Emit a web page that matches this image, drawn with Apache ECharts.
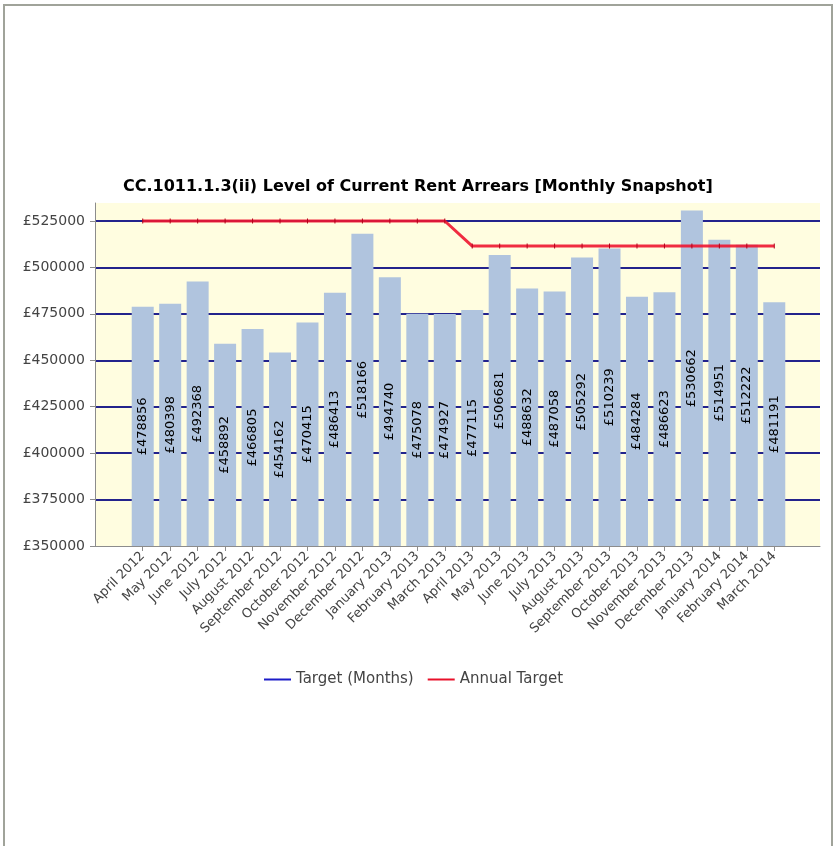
<!DOCTYPE html>
<html>
<head>
<meta charset="utf-8">
<script src="https://cdn.jsdelivr.net/npm/echarts@6/dist/echarts.min.js"></script>
<style>
  html, body { margin: 0; padding: 0; background: #fff; }
  #frame {
    position: absolute; left: 3px; top: 4px; width: 826px; height: 850px;
    border-top: 2px solid #a0a39a; border-left: 2px solid #a0a39a; border-right: 2px solid #a0a39a;
  }
  #chart { position: absolute; left: 0; top: 0; width: 833px; height: 846px; }
</style>
</head>
<body>
<div id="frame"></div>
<div id="chart"></div>
<script>
// months shown on the x axis
const months = [
  "April 2012", "May 2012", "June 2012", "July 2012", "August 2012", "September 2012",
  "October 2012", "November 2012", "December 2012", "January 2013", "February 2013", "March 2013",
  "April 2013", "May 2013", "June 2013", "July 2013", "August 2013", "September 2013",
  "October 2013", "November 2013", "December 2013", "January 2014", "February 2014", "March 2014"
];
// arrears snapshot per month (bar labels)
const arrears = [
  478856, 480398, 492368, 458892, 466805, 454162, 470415, 486413, 518166, 494740, 475078, 474927,
  477115, 506681, 488632, 487058, 505292, 510239, 484284, 486623, 530662, 514951, 512222, 481191
];
// annual target line
const annualTarget = [
  525000, 525000, 525000, 525000, 525000, 525000, 525000, 525000, 525000, 525000, 525000, 525000,
  511500, 511500, 511500, 511500, 511500, 511500, 511500, 511500, 511500, 511500, 511500, 511500
];
// monthly target series (no points shown in the picture)
const monthTarget = [];

const fontFam = "DejaVu Sans";
const navy = "#23238c";
const chart = echarts.init(document.getElementById("chart"));

chart.setOption({
  animation: false,
  title: {
    text: "CC.1011.1.3(ii) Level of Current Rent Arrears [Monthly Snapshot]",
    left: 118, top: 174,
    textStyle: { fontFamily: fontFam, fontSize: 16, fontWeight: "bold", color: "#000" }
  },
  legend: {
    top: 667, left: 259,
    itemWidth: 27, itemHeight: 2, itemGap: 14,
    textStyle: { fontFamily: fontFam, fontSize: 15, color: "#444" },
    data: [
      { name: "Target (Months)", icon: "rect", itemStyle: { color: "#1c1cc8" } },
      { name: "Annual Target", icon: "rect", itemStyle: { color: "#e8102a" } }
    ]
  },
  grid: [
    // yellow plot background
    {
      left: 95, right: 13, top: 203, bottom: 300, show: true,
      backgroundColor: "#fffde0", borderWidth: 0, borderColor: "transparent"
    },
    // y labels and gridlines (350000..525000)
    { left: 95, right: 13, top: 221, bottom: 300 },
    // inner grid for the bars, top of scale about 535000
    { left: 129, right: 45, top: 203, bottom: 300 }
  ],
  xAxis: [
    {
      gridIndex: 1, type: "category", data: [""],
      axisLine: { show: true, lineStyle: { color: "#8c8c8c", width: 1 } },
      axisTick: { show: false }, axisLabel: { show: false }
    },
    {
      gridIndex: 2, type: "category", data: months,
      axisLine: { show: false },
      axisTick: { show: true, alignWithLabel: true, length: 5, lineStyle: { color: "#8c8c8c" } },
      axisLabel: {
        rotate: 45, interval: 0, margin: 8,
        fontFamily: fontFam, fontSize: 13, color: "#444"
      }
    },
    {
      gridIndex: 0, type: "value", min: 0, max: 1, show: false
    }
  ],
  yAxis: [
    {
      gridIndex: 1, type: "value", min: 350000, max: 525000, interval: 25000,
      axisLine: { show: false },
      axisTick: { show: true, length: 5, lineStyle: { color: "#8c8c8c" } },
      splitLine: { show: true, showMinLine: false, lineStyle: { color: navy, width: 2 } },
      axisLabel: {
        margin: 10,
        fontFamily: fontFam, fontSize: 14, color: "#444",
        formatter: v => "£" + v
      }
    },
    {
      gridIndex: 2, type: "value", min: 350000, max: 534700,
      axisLine: { show: false }, axisTick: { show: false },
      splitLine: { show: false }, axisLabel: { show: false }
    },
    {
      // grey vertical axis line over the full plot height
      gridIndex: 0, type: "value", min: 0, max: 1,
      axisLine: { show: true, lineStyle: { color: "#8c8c8c" } },
      axisTick: { show: false }, splitLine: { show: false }, axisLabel: { show: false }
    }
  ],
  series: [
    {
      name: "Arrears", type: "bar", xAxisIndex: 1, yAxisIndex: 1,
      data: arrears, barWidth: 22, z: 3,
      itemStyle: { color: "#b0c4de" },
      label: {
        show: true, position: "inside", rotate: 90,
        fontFamily: fontFam, fontSize: 13, color: "#000",
        formatter: p => "£" + p.value
      }
    },
    {
      name: "Target (Months)", type: "line", xAxisIndex: 1, yAxisIndex: 1,
      data: monthTarget, symbol: "none", lineStyle: { color: "#1c1cc8" }
    },
    {
      name: "Annual Target", type: "line", xAxisIndex: 1, yAxisIndex: 1,
      data: annualTarget,
      symbol: "rect", symbolSize: [1, 5],
      itemStyle: { color: "#b00018" },
      lineStyle: { color: "#ee1530", width: 3, opacity: 0.9 },
      z: 5
    }
  ]
});

window.addEventListener("resize", () => {
  chart.resize();
});
</script>
</body>
</html>
